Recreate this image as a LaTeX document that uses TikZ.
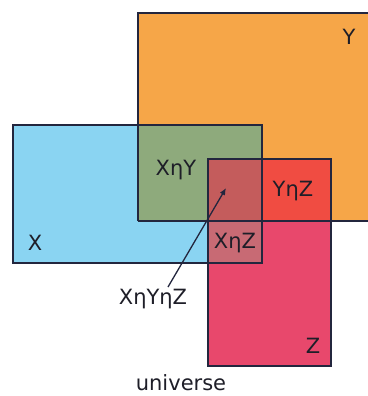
\documentclass[tikz,border=0pt]{standalone}
\usepackage{fontspec}
\setmainfont{DejaVu Sans}
\usetikzlibrary{arrows.meta}
\begin{document}
\begin{tikzpicture}[x=1pt,y=-1pt,
  edge/.style={draw=lineC,line width=1.3pt},
  lbl/.style={font=\fontsize{21}{24}\selectfont,text=textC,inner sep=0pt},
]
\definecolor{lineC}{RGB}{35,38,62}
\definecolor{textC}{RGB}{30,30,40}
\definecolor{Yc}{RGB}{246,166,72}
\definecolor{Xc}{RGB}{138,212,242}
\definecolor{XYc}{RGB}{142,170,124}
\definecolor{Zc}{RGB}{232,72,108}
\definecolor{YZc}{RGB}{240,76,66}
\definecolor{XZc}{RGB}{200,106,116}
\definecolor{XYZc}{RGB}{196,92,92}
\useasboundingbox (0,0) rectangle (367,396);
\fill[white] (0,0) rectangle (367,396);
% fills
\fill[Yc] (138,13) rectangle (380,221);
\fill[Xc] (13,125) rectangle (262,263);
\fill[XYc] (138,125) rectangle (262,221);
\fill[Zc] (208,159) rectangle (331,366);
\fill[YZc] (208,159) rectangle (331,221);
\fill[XZc] (208,159) rectangle (262,263);
\fill[XYZc] (208,159) rectangle (262,221);
% outlines
\draw[edge] (138,221) -- (138,13) -- (380,13);
\draw[edge] (138,221) -- (380,221);
\draw[edge] (13,125) rectangle (262,263);
\draw[edge] (208,159) rectangle (331,366);
% labels
\node[lbl] (ly) at (349,37) {Y};
\node[lbl] (lxy) at (176,170) {XηY};
\node[lbl] (lyz) at (293,191) {YηZ};
\node[lbl] (lx) at (35,243) {X};
\node[lbl] (lxz) at (235,243) {XηZ};
\node[lbl] (lxyz) at (153,299) {XηYηZ};
\node[lbl] (lz) at (313,346) {Z};
\node[lbl] (lu) at (181,383) {universe};
\coordinate (tip) at (226,188);
\coordinate (tail) at (168,287);
\draw[lineC,line width=1.3pt,-{Latex[length=7pt,width=6pt]}] (tail) -- (tip);
\end{tikzpicture}
\end{document}
